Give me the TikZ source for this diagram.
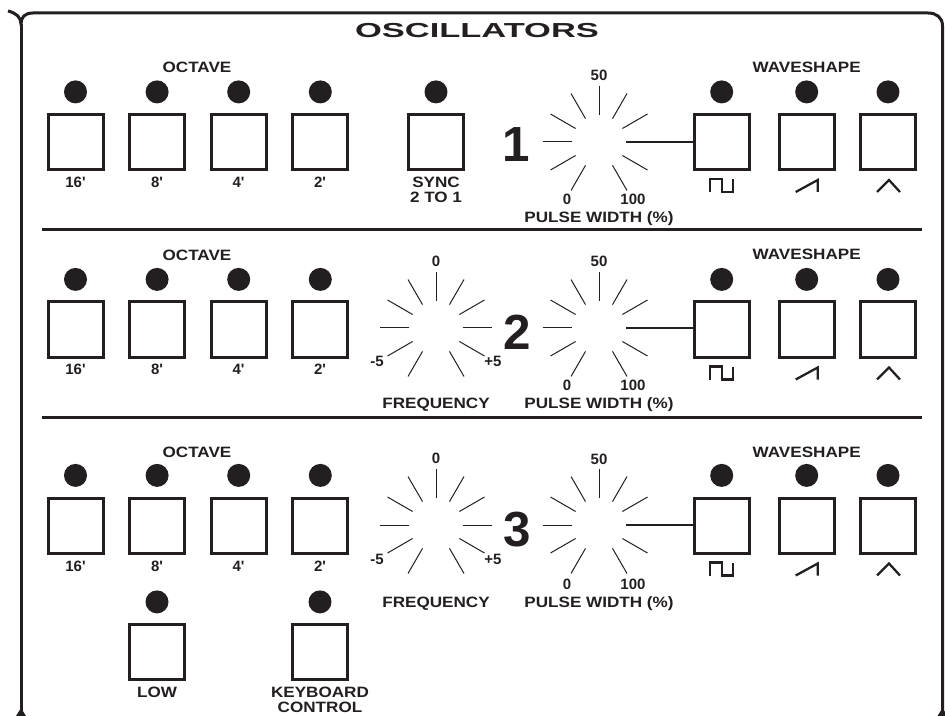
\documentclass[tikz,border=0pt]{standalone}
\usepackage{fontspec}
\usetikzlibrary{positioning}
\setmainfont{Liberation Sans}
\newfontfamily\panelfont[FakeStretch=1.14]{Liberation Sans Bold}
\newfontfamily\titlefont[FakeStretch=1.7]{Liberation Sans Bold}
\definecolor{panelink}{HTML}{231F20}

\begin{document}
\begin{tikzpicture}[x=0.75pt,y=-0.75pt,
        button/.style={rectangle, draw=panelink, line width=2.25pt, minimum size=41.25pt, inner sep=0pt},
        led/.style={circle, fill=panelink, minimum size=17.25pt, inner sep=0pt},
        caption/.style={inner sep=0pt, text=panelink, align=center, font=\panelfont\fontsize{11.25pt}{11.25pt}\selectfont},
        value/.style={inner sep=0pt, text=panelink, font=\fontsize{11.25pt}{11.25pt}\selectfont\bfseries},
        bignumber/.style={inner sep=0pt, text=panelink, font=\fontsize{37pt}{37pt}\selectfont\bfseries},
        divider/.style={draw=panelink, line width=2.25pt},
        tick/.style={draw=panelink, line width=0.75pt},
        wave/.style={draw=panelink, line width=1.7pt},
      ]
      \useasboundingbox (0,0) rectangle (945,716);

      % Frame
      \draw[divider] (8,11) .. controls (16,13) and (21,17) .. (21,24) .. controls (21,17) and (25,13) .. (33,13) -- (928,13) .. controls (936,13) and (942.5,17) .. (942.5,26) -- (942.5,712);
      \draw[divider] (21,24) -- (21,712);
      \fill[panelink] (16,716) -- (21,708) -- (26,716) -- cycle;
      \fill[panelink] (937.5,716) -- (942.5,708) -- (947.5,716) -- cycle;
      \draw[divider] (42,230) -- (922,230);
      \draw[divider] (42,417) -- (922,417);

      % Nodes
      \node[inner sep=0pt, text=panelink, font=\titlefont\fontsize{15.2pt}{15.2pt}\selectfont] (title) at (477,31) {OSCILLATORS};

      % Row one
      \node[button] (oct16_one) at (75.5,142) {};
      \node[button] (oct8_one) [right=17.7pt of oct16_one] {};
      \node[button] (oct4_one) [right=17.7pt of oct8_one] {};
      \node[button] (oct2_one) [right=17.7pt of oct4_one] {};
      \node[button] (sync_one) at (436,142) {};
      \node[button] (pulse_one) at (721.7,142) {};
      \node[button] (saw_one) at (806.7,142) {};
      \node[button] (tri_one) at (888,142) {};
      \foreach \btn in {oct16,oct8,oct4,oct2,sync,pulse,saw,tri}
        \node[led] (\btn_led_one) [above=7pt of \btn_one] {};
      \node[caption] (octave_one) at (197,67.5) {OCTAVE};
      \node[caption] (waveshape_one) at (806.7,67.5) {WAVESHAPE};
      \node[value] (lab16_one) at (75.5,182.5) {16\textquotesingle};
      \node[value] (lab8_one) at (157,182.5) {8\textquotesingle};
      \node[value] (lab4_one) at (238.5,182.5) {4\textquotesingle};
      \node[value] (lab2_one) at (320,182.5) {2\textquotesingle};
      \node[caption] (syncl_one) at (436,190) {SYNC\\2 TO 1};
      \node[bignumber] (num_one) at (516,145) {1};
      \coordinate (pw_one) at (599,142);
      \node[value] (pw50_one) at (599,75.5) {50};
      \node[value] (pw0_one) at (567,199.5) {0};
      \node[value] (pw100_one) at (633,199.5) {100};
      \node[caption] (pwl_one) at (599,218.5) {PULSE WIDTH (\%)};

      % Row two
      \node[button] (oct16_two) at (75.5,329.5) {};
      \node[button] (oct8_two) [right=17.7pt of oct16_two] {};
      \node[button] (oct4_two) [right=17.7pt of oct8_two] {};
      \node[button] (oct2_two) [right=17.7pt of oct4_two] {};
      \node[button] (pulse_two) at (721.7,329.5) {};
      \node[button] (saw_two) at (806.7,329.5) {};
      \node[button] (tri_two) at (888,329.5) {};
      \foreach \btn in {oct16,oct8,oct4,oct2,pulse,saw,tri}
        \node[led] (\btn_led_two) [above=7pt of \btn_two] {};
      \node[caption] (octave_two) at (197,255.5) {OCTAVE};
      \node[caption] (waveshape_two) at (806.7,254.5) {WAVESHAPE};
      \node[value] (lab16_two) at (75.5,369.5) {16\textquotesingle};
      \node[value] (lab8_two) at (157,369.5) {8\textquotesingle};
      \node[value] (lab4_two) at (238.5,369.5) {4\textquotesingle};
      \node[value] (lab2_two) at (320,369.5) {2\textquotesingle};
      \node[bignumber] (num_two) at (517,332) {2};
      \coordinate (freq_two) at (436,328);
      \node[value] (freq0_two) at (436,261.5) {0};
      \node[value] (freqm_two) at (377,361.5) {-5};
      \node[value] (freqp_two) at (493,361.5) {+5};
      \node[caption] (freql_two) at (436,404.5) {FREQUENCY};
      \coordinate (pw_two) at (599,328);
      \node[value] (pw50_two) at (599,261.5) {50};
      \node[value] (pw0_two) at (567,385.5) {0};
      \node[value] (pw100_two) at (633,385.5) {100};
      \node[caption] (pwl_two) at (599,404.5) {PULSE WIDTH (\%)};

      % Row three
      \node[button] (oct16_three) at (75.5,525.5) {};
      \node[button] (oct8_three) [right=17.7pt of oct16_three] {};
      \node[button] (oct4_three) [right=17.7pt of oct8_three] {};
      \node[button] (oct2_three) [right=17.7pt of oct4_three] {};
      \node[button] (pulse_three) at (721.7,525.5) {};
      \node[button] (saw_three) at (806.7,525.5) {};
      \node[button] (tri_three) at (888,525.5) {};
      \node[button] (low_three) at (157,652) {};
      \node[button] (kbd_three) at (320,652) {};
      \foreach \btn in {oct16,oct8,oct4,oct2,pulse,saw,tri,low,kbd}
        \node[led] (\btn_led_three) [above=7pt of \btn_three] {};
      \node[caption] (octave_three) at (197,452.5) {OCTAVE};
      \node[caption] (waveshape_three) at (806.7,452.5) {WAVESHAPE};
      \node[value] (lab16_three) at (75.5,566.5) {16\textquotesingle};
      \node[value] (lab8_three) at (157,566.5) {8\textquotesingle};
      \node[value] (lab4_three) at (238.5,566.5) {4\textquotesingle};
      \node[value] (lab2_three) at (320,566.5) {2\textquotesingle};
      \node[caption] (lowl_three) at (157,692.5) {LOW};
      \node[caption] (kbdl_three) at (320,700) {KEYBOARD\\CONTROL};
      \node[bignumber] (num_three) at (517,530) {3};
      \coordinate (freq_three) at (436,525);
      \node[value] (freq0_three) at (436,458.5) {0};
      \node[value] (freqm_three) at (377,559.5) {-5};
      \node[value] (freqp_three) at (493,559.5) {+5};
      \node[caption] (freql_three) at (436,603.5) {FREQUENCY};
      \coordinate (pw_three) at (599,525);
      \node[value] (pw50_three) at (599,459.5) {50};
      \node[value] (pw0_three) at (567,584.5) {0};
      \node[value] (pw100_three) at (633,584.5) {100};
      \node[caption] (pwl_three) at (599,603.5) {PULSE WIDTH (\%)};

      % Ticks
      \foreach \dial in {pw_one,pw_two,pw_three,freq_two,freq_three}
        \foreach \ang in {30,60,90,120,150,180,210,240,300,330}
          \draw[tick] ([shift={(\ang:20.25pt)}]\dial) -- ([shift={(\ang:42pt)}]\dial);
      \foreach \dial in {freq_two,freq_three}
        \draw[tick] ([shift={(0:20.25pt)}]\dial) -- ([shift={(0:42pt)}]\dial);

      % Lines
      \foreach \r in {one,two,three} {
        \draw[wave] ([shift={(0:20.25pt)}]pw_\r) -- (pw_\r -| pulse_\r.west);
        % Wave symbols
        \draw[wave] ([shift={(-11.5,50)}]pulse_\r.center) -- ++(0,-13) -- ++(12,0) -- ++(0,13) -- ++(11,0) -- ++(0,-13);
        \draw[wave] ([shift={(-11,50)}]saw_\r.center) -- ++(22,-12) -- ++(0,12);
        \draw[wave] ([shift={(-11,50)}]tri_\r.center) -- ++(12,-12) -- ++(11,12);
      }
    \end{tikzpicture}
\end{document}
